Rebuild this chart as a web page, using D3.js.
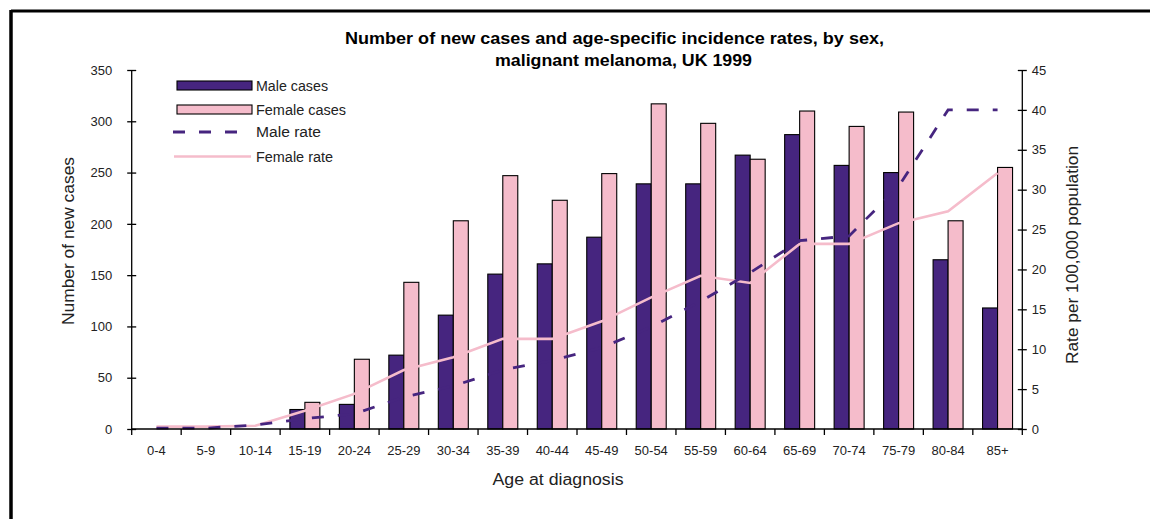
<!DOCTYPE html>
<html>
<head>
<meta charset="utf-8">
<script src="https://cdn.jsdelivr.net/npm/d3@7"></script>
<style>
  html, body { margin: 0; padding: 0; background: #fff; }
  svg { display: block; font-family: "Liberation Sans", Arial, sans-serif; }
</style>
</head>
<body>
<svg id="chart" width="1150" height="519"></svg>
<script>
const ageGroups = ["0-4","5-9","10-14","15-19","20-24","25-29","30-34","35-39","40-44","45-49","50-54","55-59","60-64","65-69","70-74","75-79","80-84","85+"];
const maleCases   = [0, 0, 1, 19, 24, 72, 111, 151, 161, 187, 239, 239, 267, 287, 257, 250, 165, 118];
const femaleCases = [0, 0, 1, 26, 68, 143, 203, 247, 223, 249, 317, 298, 263, 310, 295, 309, 203, 255];
const maleRate    = [0.1, 0.1, 0.5, 1.3, 1.9, 4.0, 5.4, 7.4, 8.6, 10.2, 12.8, 16.0, 19.6, 23.6, 24.2, 30.4, 40.0, 40.0];
const femaleRate  = [0.3, 0.3, 0.4, 2.3, 4.4, 7.4, 9.0, 11.3, 11.3, 13.5, 16.5, 19.2, 18.3, 23.2, 23.2, 25.8, 27.3, 32.1];
const casesTicks = [0, 50, 100, 150, 200, 250, 300, 350];
const rateTicks  = [0, 5, 10, 15, 20, 25, 30, 35, 40, 45];
const seriesNames = ["Male cases", "Female cases", "Male rate", "Female rate"];
const titleLines = ["Number of new cases and age-specific incidence rates, by sex,", "malignant melanoma, UK 1999"];

const maleColor = "#46257f";
const femaleColor = "#f5bccb";
const textColor = "#222";

const svg = d3.select("#chart");

// frame
svg.append("line").attr("x1", 11).attr("x2", 1150).attr("y1", 11).attr("y2", 11)
  .attr("stroke", "#000").attr("stroke-width", 3);
svg.append("line").attr("x1", 11).attr("x2", 11).attr("y1", 10).attr("y2", 519)
  .attr("stroke", "#000").attr("stroke-width", 3.5);

const pLeft = 131.7, pRight = 1022.3, pTop = 70, pBottom = 429;

const x = d3.scaleBand().domain(ageGroups).range([pLeft, pRight]).padding(0);
const xs = d3.scaleBand().domain(["m","f"]).range([0, x.bandwidth()]).paddingInner(0).paddingOuter(0.65);
const yL = d3.scaleLinear().domain([0, 350]).range([pBottom, pTop]);
const yR = d3.scaleLinear().domain([0, 45]).range([pBottom, pTop]);

// bars
const g = svg.append("g");
ageGroups.forEach((a, i) => {
  [["m", maleCases[i], maleColor], ["f", femaleCases[i], femaleColor]].forEach(([k, v, c]) => {
    if (v <= 1) return;
    g.append("rect")
      .attr("x", x(a) + xs(k))
      .attr("y", yL(v))
      .attr("width", xs.bandwidth())
      .attr("height", yL(0) - yL(v))
      .attr("fill", c)
      .attr("stroke", "#000")
      .attr("stroke-width", 1.1);
  });
});

// lines
const lineR = d3.line().x((d, i) => x(ageGroups[i]) + x.bandwidth() / 2).y(d => yR(d));
svg.append("path").datum(femaleRate).attr("d", lineR)
  .attr("fill", "none").attr("stroke", femaleColor).attr("stroke-width", 2.6);
svg.append("path").datum(maleRate).attr("d", lineR)
  .attr("fill", "none").attr("stroke", maleColor).attr("stroke-width", 2.8)
  .attr("stroke-dasharray", "12,14");

// axes
const axisStyle = sel => {
  sel.selectAll("path.domain").attr("stroke", "#000").attr("stroke-width", 1.3);
  sel.selectAll(".tick line").attr("stroke", "#000").attr("stroke-width", 1.3);
  sel.selectAll("text").attr("fill", textColor).style("font-size", "13px")
    .style("font-family", '"Liberation Sans", Arial, sans-serif');
};

const axL = svg.append("g").attr("transform", `translate(${pLeft},0)`)
  .call(d3.axisLeft(yL).tickValues(casesTicks).tickSize(4.5).tickPadding(15).tickFormat(d3.format("d")));
axL.selectAll(".tick line").attr("x2", 4.5).attr("x1", -4.5);
axL.call(axisStyle);
axL.select("path.domain").attr("d", `M0,${pBottom}V${pTop}`);

const axR = svg.append("g").attr("transform", `translate(${pRight},0)`)
  .call(d3.axisRight(yR).tickValues(rateTicks).tickSize(4.5).tickPadding(5).tickFormat(d3.format("d")));
axR.selectAll(".tick line").attr("x1", -4.5).attr("x2", 4.5);
axR.call(axisStyle);
axR.select("path.domain").attr("d", `M0,${pBottom}V${pTop}`);

const axB = svg.append("g").attr("transform", `translate(0,${pBottom})`)
  .call(d3.axisBottom(x).tickSize(0).tickPadding(17));
axB.call(axisStyle);
axB.select("path.domain").attr("d", `M${pLeft},0H${pRight}`);
// boundary ticks
const bounds = ageGroups.map(a => x(a)).concat([pRight]);
axB.selectAll("line.btick").data(bounds).join("line").attr("class", "btick")
  .attr("x1", d => d).attr("x2", d => d).attr("y1", 0).attr("y2", 6)
  .attr("stroke", "#000").attr("stroke-width", 1.3);

// axis titles
svg.append("text").attr("x", 558).attr("y", 485).attr("text-anchor", "middle")
  .attr("fill", textColor).style("font-size", "16px")
  .attr("textLength", 131).attr("lengthAdjust", "spacingAndGlyphs").text("Age at diagnosis");
svg.append("text").attr("transform", "translate(74,241) rotate(-90)").attr("text-anchor", "middle")
  .attr("fill", textColor).style("font-size", "16px")
  .attr("textLength", 168).attr("lengthAdjust", "spacingAndGlyphs").text("Number of new cases");
svg.append("text").attr("transform", "translate(1078,255) rotate(-90)").attr("text-anchor", "middle")
  .attr("fill", textColor).style("font-size", "16px")
  .attr("textLength", 218).attr("lengthAdjust", "spacingAndGlyphs").text("Rate per 100,000 population");

// title
svg.append("text").attr("x", 614.5).attr("y", 44).attr("text-anchor", "middle")
  .attr("fill", "#000").style("font-size", "16px").style("font-weight", "bold")
  .attr("textLength", 539).attr("lengthAdjust", "spacingAndGlyphs").text(titleLines[0]);
svg.append("text").attr("x", 623.5).attr("y", 66).attr("text-anchor", "middle")
  .attr("fill", "#000").style("font-size", "16px").style("font-weight", "bold")
  .attr("textLength", 257).attr("lengthAdjust", "spacingAndGlyphs").text(titleLines[1]);

// legend
const lg = svg.append("g");
const ly = [85.5, 109.5, 132, 156.5];
const lw = [72, 90, 65, 77];
lg.append("rect").attr("x", 177).attr("y", ly[0] - 4.5).attr("width", 75).attr("height", 9)
  .attr("fill", maleColor).attr("stroke", "#000").attr("stroke-width", 1.1);
lg.append("rect").attr("x", 177).attr("y", ly[1] - 4.5).attr("width", 75).attr("height", 9)
  .attr("fill", femaleColor).attr("stroke", "#000").attr("stroke-width", 1.1);
lg.append("line").attr("x1", 173).attr("x2", 240).attr("y1", ly[2]).attr("y2", ly[2])
  .attr("stroke", maleColor).attr("stroke-width", 2.8).attr("stroke-dasharray", "12,14");
lg.append("line").attr("x1", 174).attr("x2", 251).attr("y1", ly[3]).attr("y2", ly[3])
  .attr("stroke", femaleColor).attr("stroke-width", 2.6);
seriesNames.forEach((n, i) => {
  lg.append("text").attr("x", 256).attr("y", ly[i] + 5).attr("fill", textColor)
    .style("font-size", "14px")
    .attr("textLength", lw[i]).attr("lengthAdjust", "spacingAndGlyphs").text(n);
});
</script>
</body>
</html>
